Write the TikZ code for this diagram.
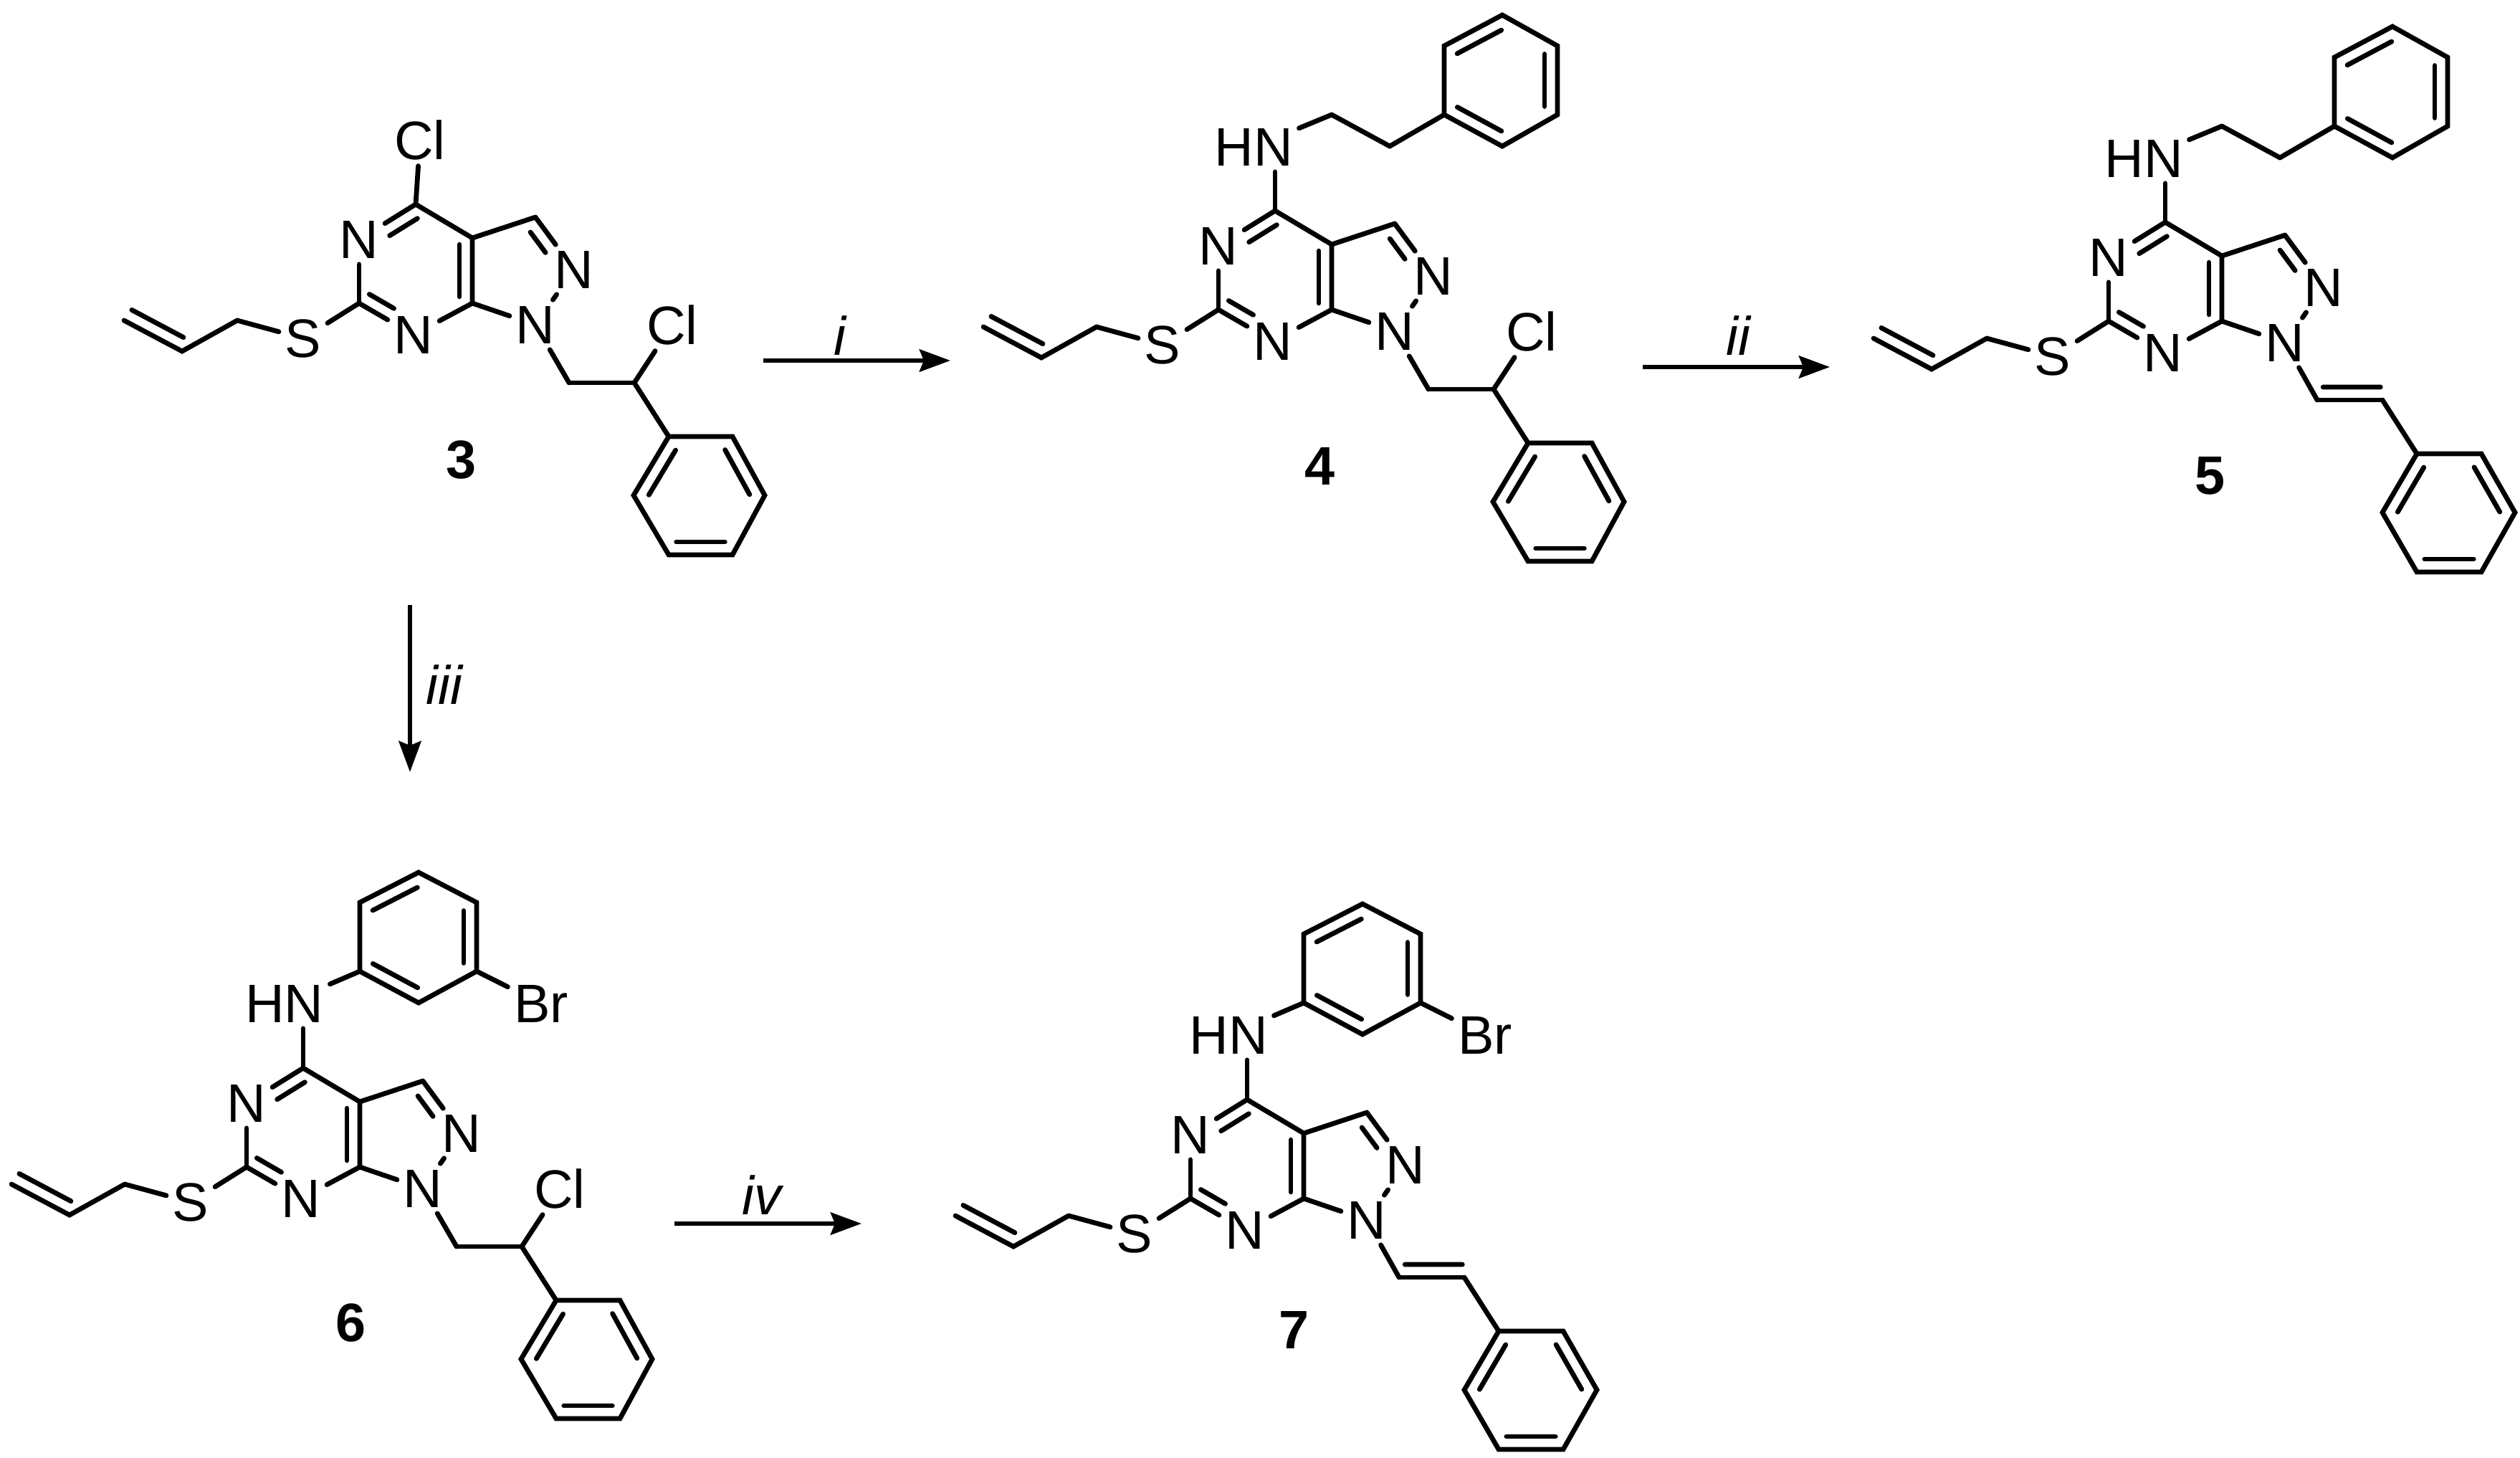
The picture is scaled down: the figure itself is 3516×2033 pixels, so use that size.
\documentclass[tikz,border=0pt]{standalone}
\usepackage{fontspec}
\setmainfont{Liberation Sans}
\usepackage{tikz}
\usetikzlibrary{calc,arrows.meta}
\tikzset{
  bond/.style={draw=black, line width=0.068cm, line cap=round, line join=miter},
  atom/.style={font=\fontsize{21.5}{24}\selectfont, inner sep=2.5pt, outer sep=0pt},
  cmpd/.style={font=\fontsize{21.5}{24}\selectfont\bfseries, inner sep=0pt},
  cond/.style={font=\fontsize{21.5}{24}\selectfont\itshape, inner sep=0pt},
  rxn/.style={draw=black, line width=0.065cm, -{Stealth[length=0.43cm, width=0.31cm, inset=0.06cm]}}
}
% inner line of a double bond: from, to, start, end, side
\newcommand{\dbond}[5]{\draw[bond] ($(#1)!#3!(#2)!0.18cm!#5:(#2)$) -- ($(#1)!#4!(#2)!0.18cm!#5:(#2)$);}
% ring corners clockwise, the inner lines are on every second side
\newcommand{\benzene}[7]{
  \coordinate (#1a) at #2;
  \coordinate (#1b) at #3;
  \coordinate (#1c) at #4;
  \coordinate (#1d) at #5;
  \coordinate (#1e) at #6;
  \coordinate (#1f) at #7;
  \draw[bond] (#1a)--(#1b)--(#1c)--(#1d)--(#1e)--(#1f)--cycle;
  \dbond{#1b}{#1c}{0.12}{0.88}{-90}
  \dbond{#1d}{#1e}{0.12}{0.88}{-90}
  \dbond{#1f}{#1a}{0.12}{0.88}{-90}
}
% bicyclic core with the S-allyl arm
\newcommand{\pyrazolopyrimidine}{
  \coordinate (C3a) at (0,0);
  \coordinate (C4) at (-79,-47);
  \coordinate (C7a) at (0,91);
  \coordinate (C3) at (88,-29);
  \coordinate (C6) at (-158,91);
  \coordinate (CHb) at (-328,115);
  \coordinate (CHc) at (-405,158);
  \coordinate (CHd) at (-486,115);
  \node[atom] (N5) at (-158,2) {N};
  \node[atom] (N7) at (-82,135) {N};
  \node[atom] (N1) at (88,121) {N};
  \node[atom] (N2) at (142,44) {N};
  \node[atom] (S) at (-236,140) {S};
  \draw[bond] (C4)--(C3a)--(C7a);
  \draw[bond] (C3a)--(C3);
  \draw[bond] (C3)--(N2);
  \draw[bond] (N2)--(N1);
  \draw[bond] (N1)--(C7a);
  \draw[bond] (C7a)--(N7);
  \draw[bond] (N7)--(C6);
  \draw[bond] (C6)--(N5);
  \draw[bond] (N5)--(C4);
  \draw[bond] (C6)--(S);
  \draw[bond] (S)--(CHb);
  \draw[bond] (CHb)--(CHc)--(CHd);
  \dbond{C3a}{C7a}{0.1}{0.9}{-90}
  \dbond{C4}{N5}{0.09}{0.58}{90}
  \dbond{C6}{N7}{0.07}{0.52}{90}
  \dbond{C3}{N2}{0.14}{0.53}{-90}
  \dbond{CHc}{CHd}{0.08}{0.97}{-90}
}
\newcommand{\chloroethyl}{
  \coordinate (CHe) at (135,202);
  \coordinate (CHf) at (226,202);
  \node[atom] (Clb) at (279,121) {Cl};
  \draw[bond] (N1)--(CHe);
  \draw[bond] (CHe)--(CHf);
  \draw[bond] (CHf)--(Clb);
  \benzene{Ph}{(274,277)}{(363,277)}{(408,359)}{(363,442)}{(274,442)}{(225,359)}
  \draw[bond] (CHf)--(Pha);
}
\newcommand{\styryl}{
  \coordinate (CHe) at (133,201);
  \coordinate (CHf) at (224,201);
  \draw[bond] (N1)--(CHe);
  \draw[bond] (CHe)--(CHf);
  \dbond{CHe}{CHf}{0.09}{0.97}{90}
  \benzene{Ph}{(272,276)}{(362,276)}{(409,358)}{(362,441)}{(272,441)}{(224,358)}
  \draw[bond] (CHf)--(Pha);
}
\newcommand{\phenethyl}{
  \coordinate (CHg) at (0,-181);
  \coordinate (CHh) at (81,-137);
  \node[atom] (HN) at (-109,-136) {HN};
  \draw[bond] (C4)--(C4 |- HN.south);
  \draw[bond] (HN)--(CHg);
  \draw[bond] (CHg)--(CHh);
  \benzene{Ar}{(157,-181)}{(157,-277)}{(238,-320)}{(315,-277)}{(315,-181)}{(238,-137)}
  \draw[bond] (CHh)--(Ara);
}
\newcommand{\bromoanilino}{
  \node[atom] (HN) at (-105,-137) {HN};
  \node[atom] (Br) at (253,-137) {Br};
  \draw[bond] (C4)--(C4 |- HN.south);
  \benzene{Ar}{(0,-182)}{(0,-278)}{(82,-320)}{(163,-278)}{(163,-182)}{(82,-138)}
  \draw[bond] (HN)--(Ara);
  \draw[bond] (Are)--(Br);
}

\begin{document}
\begin{tikzpicture}[x=0.01cm, y=-0.01cm]
\useasboundingbox (0,0) rectangle (3516,2033);

% 3
\begin{scope}[shift={(659,332)}, name prefix=mA-]
\pyrazolopyrimidine
\chloroethyl
\node[atom] (Cla) at (-73,-137) {Cl};
\draw[bond] (C4)--(Cla);
\node[cmpd] (lab) at (-15,310) {3};
\end{scope}

% 4
\begin{scope}[shift={(1858,341)}, name prefix=mB-]
\pyrazolopyrimidine
\chloroethyl
\phenethyl
\node[cmpd] (lab) at (-17,309) {4};
\end{scope}

% 5
\begin{scope}[shift={(3100,357)}, name prefix=mC-]
\pyrazolopyrimidine
\styryl
\phenethyl
\node[cmpd] (lab) at (-17,307) {5};
\end{scope}

% 6
\begin{scope}[shift={(502,1537)}, name prefix=mD-]
\pyrazolopyrimidine
\chloroethyl
\bromoanilino
\node[cmpd] (lab) at (-12,308) {6};
\end{scope}

% 7
\begin{scope}[shift={(1819,1581)}, name prefix=mE-]
\pyrazolopyrimidine
\styryl
\bromoanilino
\node[cmpd] (lab) at (-14,274) {7};
\end{scope}

% reaction arrows
\coordinate (ia) at (1065,503);
\coordinate (ib) at (1326,503);
\coordinate (iia) at (2292,512);
\coordinate (iib) at (2553,512);
\coordinate (iiia) at (572,844);
\coordinate (iiib) at (572,1077);
\coordinate (iva) at (941,1707);
\coordinate (ivb) at (1202,1707);
\draw[rxn] (ia)--(ib);
\draw[rxn] (iia)--(iib);
\draw[rxn] (iiia)--(iiib);
\draw[rxn] (iva)--(ivb);
\node[cond] (ci) at (1172,468) {i};
\node[cond] (cii) at (2425,468) {ii};
\node[cond] (ciii) at (620,955) {iii};
\node[cond] (civ) at (1063,1667) {iv};
\end{tikzpicture}
\end{document}
